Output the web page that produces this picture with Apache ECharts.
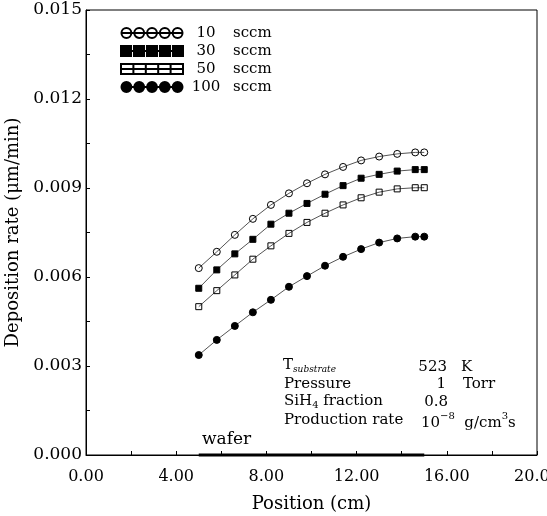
<!DOCTYPE html>
<html>
<head>
<meta charset="utf-8">
<script src="https://cdn.jsdelivr.net/npm/echarts@6/dist/echarts.min.js"></script>
<style>
  html, body { margin: 0; padding: 0; background: #fff; }
  #chart { width: 547px; height: 516px; }
</style>
</head>
<body>
<div id="chart"></div>
<script>
// positions along the reactor (cm)
const positions = [5.0, 5.8, 6.6, 7.4, 8.2, 9.0, 9.8, 10.6, 11.4, 12.2, 13.0, 13.8, 14.6, 15.0]

// deposition rate (um/min) for each flow rate
const rate10 = [0.00630, 0.00685, 0.00742, 0.00796, 0.00843, 0.00882, 0.00916, 0.00946, 0.00971, 0.00993, 0.01006, 0.01015, 0.01020, 0.01020]
const rate30 = [0.00562, 0.00624, 0.00678, 0.00727, 0.00778, 0.00815, 0.00848, 0.00879, 0.00908, 0.00933, 0.00946, 0.00957, 0.00962, 0.00962]
const rate50 = [0.00500, 0.00554, 0.00607, 0.00660, 0.00705, 0.00747, 0.00784, 0.00815, 0.00843, 0.00867, 0.00886, 0.00897, 0.00901, 0.00901]
const rate100 = [0.00337, 0.00388, 0.00435, 0.00481, 0.00523, 0.00567, 0.00603, 0.00638, 0.00668, 0.00694, 0.00716, 0.00730, 0.00736, 0.00736]

const seriesNames = ['10 sccm', '30 sccm', '50 sccm', '100 sccm']
const waferRange = [5, 15]

const serif = 'DejaVu Serif'

// legend icons: five markers on a line
function circlesPath() {
  let p = 'path://M0 5.5 L63 5.5 '
  for (let i = 0; i < 5; i++) {
    const cx = 5.5 + i * 13
    p += 'M' + (cx - 5) + ' 5.5 a5 5 0 1 0 10 0 a5 5 0 1 0 -10 0 Z '
  }
  return p
}
function squaresPath(gap) {
  let p = 'path://M0 5.5 L63 5.5 '
  const s = (63 - 4 * gap) / 5
  for (let i = 0; i < 5; i++) {
    const x = i * (s + gap)
    p += 'M' + x + ' 0.5 h' + s + ' v10 h' + (-s) + ' Z '
  }
  return p
}

function pairs(ys) {
  return positions.map((x, i) => [x, ys[i]])
}

const hollow = { color: 'rgba(255,255,255,0)', borderColor: '#000', borderWidth: 1 }
const filled = { color: '#000', borderColor: '#000', borderWidth: 1 }

function curve(name, ys, symbol, size, itemStyle) {
  return {
    name: name,
    type: 'line',
    data: pairs(ys),
    symbol: symbol,
    symbolSize: size,
    showAllSymbol: true,
    itemStyle: itemStyle,
    lineStyle: { color: '#555', width: 1 },
    emphasis: { disabled: true },
    animation: false
  }
}

const chart = echarts.init(document.getElementById('chart'))

chart.setOption({
  backgroundColor: '#fff',
  animation: false,
  grid: {
    left: 86,
    right: 10,
    top: 10,
    bottom: 61,
    outerBoundsMode: 'none',
    show: true,
    borderColor: '#000',
    borderWidth: 1
  },
  legend: {
    orient: 'vertical',
    left: 120,
    top: 25,
    padding: 0,
    itemWidth: 62,
    itemHeight: 11,
    itemGap: 2,
    selectedMode: false,
    data: [
      { name: seriesNames[0], icon: circlesPath() },
      { name: seriesNames[1], icon: squaresPath(3) },
      { name: seriesNames[2], icon: squaresPath(0) },
      { name: seriesNames[3], icon: circlesPath() }
    ],
    formatter: name => {
      const parts = name.split(' ')
      return '{n|' + parts[0] + '}{u|' + parts[1] + '}'
    },
    textStyle: {
      color: '#000',
      fontFamily: serif,
      fontSize: 15,
      lineHeight: 16,
      rich: {
        n: { width: 36, align: 'right', fontFamily: serif, fontSize: 15, lineHeight: 16, color: '#000' },
        u: { padding: [0, 0, 0, 9], fontFamily: serif, fontSize: 15, lineHeight: 16, color: '#000' }
      }
    }
  },
  xAxis: {
    type: 'value',
    min: 0,
    max: 20,
    interval: 4,
    name: 'Position (cm)',
    nameLocation: 'middle',
    nameGap: 40,
    nameTextStyle: { fontFamily: serif, fontSize: 18, color: '#000' },
    axisLine: { lineStyle: { color: '#000', width: 1 } },
    axisTick: { inside: true, length: 4, lineStyle: { color: '#000' } },
    minorTick: { show: true, splitNumber: 2, length: 4, lineStyle: { color: '#000' } },
    splitLine: { show: false },
    axisLabel: {
      margin: 14,
      fontFamily: serif,
      fontSize: 16,
      color: '#000',
      formatter: v => v.toFixed(2)
    }
  },
  yAxis: {
    type: 'value',
    min: 0,
    max: 0.015,
    interval: 0.003,
    name: 'Deposition rate (μm/min)',
    nameLocation: 'middle',
    nameGap: 62,
    nameTextStyle: { fontFamily: serif, fontSize: 18, color: '#000' },
    axisLine: { show: true, lineStyle: { color: '#000', width: 1 } },
    axisTick: { show: true, inside: true, length: 4, lineStyle: { color: '#000' } },
    minorTick: { show: true, splitNumber: 2, length: 4, lineStyle: { color: '#000' } },
    splitLine: { show: false },
    axisLabel: {
      margin: 4,
      fontFamily: serif,
      fontSize: 17,
      color: '#000',
      formatter: v => v.toFixed(3)
    }
  },
  series: [
    curve(seriesNames[0], rate10, 'circle', 7, hollow),
    curve(seriesNames[1], rate30, 'rect', 6, filled),
    curve(seriesNames[2], rate50, 'rect', 6, hollow),
    curve(seriesNames[3], rate100, 'circle', 7, filled),
    {
      name: 'wafer',
      type: 'line',
      data: waferRange.map(x => [x, 0]),
      symbol: 'none',
      clip: false,
      lineStyle: { color: '#000', width: 3 },
      emphasis: { disabled: true },
      z: 5
    }
  ],
  graphic: [
    {
      type: 'text', left: 202, top: 431,
      style: { text: 'wafer', font: '17px "DejaVu Serif"', fill: '#000' }
    },
    // process conditions
    {
      type: 'text', left: 283, top: 358,
      style: {
        text: '{a|T}{b|substrate}',
        rich: {
          a: { fontFamily: serif, fontSize: 15, lineHeight: 18, fill: '#000' },
          b: { fontFamily: serif, fontSize: 9, fontStyle: 'italic', lineHeight: 9, verticalAlign: 'bottom', fill: '#000' }
        }
      }
    },
    { type: 'text', left: 284, top: 377, style: { text: 'Pressure', font: '15px "DejaVu Serif"', fill: '#000' } },
    {
      type: 'text', left: 284, top: 394,
      style: {
        text: '{a|SiH}{b|4}{a| fraction}',
        rich: {
          a: { fontFamily: serif, fontSize: 15, lineHeight: 18, fill: '#000' },
          b: { fontFamily: serif, fontSize: 10, lineHeight: 10, verticalAlign: 'bottom', fill: '#000' }
        }
      }
    },
    { type: 'text', left: 284, top: 413, style: { text: 'Production rate', font: '15px "DejaVu Serif"', fill: '#000' } },
    { type: 'text', right: 547 - 447, top: 360, style: { text: '523', font: '15px "DejaVu Serif"', fill: '#000' } },
    { type: 'text', right: 547 - 446, top: 377, style: { text: '1', font: '15px "DejaVu Serif"', fill: '#000' } },
    { type: 'text', right: 547 - 448, top: 395, style: { text: '0.8', font: '15px "DejaVu Serif"', fill: '#000' } },
    {
      type: 'text', left: 421, top: 411,
      style: {
        text: '{a|10}{b|−8}{a|  g/cm}{b|3}{a|s}',
        rich: {
          a: { fontFamily: serif, fontSize: 15, lineHeight: 20, verticalAlign: 'bottom', fill: '#000' },
          b: { fontFamily: serif, fontSize: 10, lineHeight: 10, verticalAlign: 'top', fill: '#000' }
        }
      }
    },
    { type: 'text', left: 461, top: 360, style: { text: 'K', font: '15px "DejaVu Serif"', fill: '#000' } },
    { type: 'text', left: 463, top: 377, style: { text: 'Torr', font: '15px "DejaVu Serif"', fill: '#000' } }
  ]
})
</script>
</body>
</html>
